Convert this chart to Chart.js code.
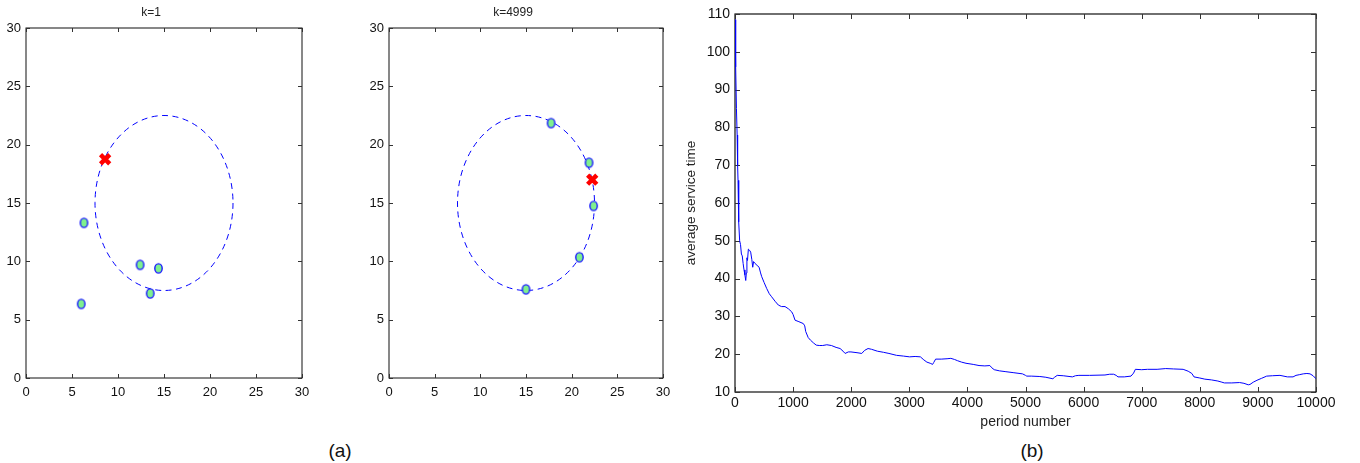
<!DOCTYPE html>
<html>
<head>
<meta charset="utf-8">
<script src="https://cdn.jsdelivr.net/npm/chart.js@4.4.1/dist/chart.umd.min.js"></script>
<style>
  html, body { margin: 0; padding: 0; background: #fff; }
  body { width: 1360px; height: 463px; position: relative; overflow: hidden; font-family: "Liberation Sans", Arial, Helvetica, sans-serif; }
  canvas { position: absolute; top: 0; }
  .cap { position: absolute; font-size: 19px; color: #111; transform: translate(-50%, -50%); white-space: nowrap; }
</style>
</head>
<body>
<canvas id="c1" width="320" height="410" style="left:0px"></canvas>
<canvas id="c2" width="318" height="410" style="left:363px"></canvas>
<canvas id="c3" width="680" height="440" style="left:680px"></canvas>
<div class="cap" style="left:340px; top:451px;">(a)</div>
<div class="cap" style="left:1032px; top:451px;">(b)</div>
<script>
// ---------- data ----------
const titleK1 = 'k=1';
const titleK2 = 'k=4999';
const gridTicks = [0, 5, 10, 15, 20, 25, 30];

const k1PointsX = [6.3, 6.0, 12.4, 14.4, 13.5];
const k1PointsY = [13.3, 6.35, 9.7, 9.4, 7.25];
const k1CrossX = [8.6];
const k1CrossY = [18.75];
const k1Circle = [15, 15, 7.5]; // centre x, centre y, radius

const k2PointsX = [17.75, 21.9, 22.4, 20.85, 15.0];
const k2PointsY = [21.85, 18.45, 14.75, 10.35, 7.6];
const k2CrossX = [22.25];
const k2CrossY = [17.0];
const k2Circle = [15, 15, 7.5];

const periodTicks = [0,1000,2000,3000,4000,5000,6000,7000,8000,9000,10000];
const timeTicks = [10,20,30,40,50,60,70,80,90,100,110];
const periods = [0,8,15,25,37,45,52,60,67,80,95,110,125,140,155,170,185,195,205,215,230,250,270,290,305,320,345,380,415,440,460,500,545,590,630,690,746,800,861,920,976,1000,1033,1100,1176,1200,1217,1260,1300,1350,1398,1450,1510,1580,1659,1740,1809,1860,1895,1950,1996,2100,2182,2230,2290,2350,2450,2556,2650,2780,2900,3005,3100,3191,3250,3303,3360,3401,3420,3453,3550,3650,3715,3780,3827,3900,3976,4100,4200,4300,4387,4420,4462,4550,4649,4800,4948,5000,5022,5100,5247,5350,5471,5500,5546,5650,5807,5860,5919,6100,6368,6450,6517,6560,6592,6700,6816,6860,6891,7000,7100,7265,7414,7550,7713,7800,7863,7900,8000,8087,8200,8311,8380,8423,8550,8685,8760,8834,8864,8920,8984,9060,9151,9250,9380,9507,9605,9656,9720,9781,9843,9897,9950,10000];
const avgServiceTime = [108.5,101,96,85,78,70,66,57,55,50,49,46.5,46,44,42.3,41,39.5,41.5,45.5,44.8,47.8,47.5,47,45,43,44.5,44,43.5,43,41.5,40.5,39,37.4,36,35.2,34,33,32.6,32.6,32,31.2,30.5,29,28.6,28.1,27.5,26,24.4,23.7,23,22.4,22.3,22.3,22.5,22.3,21.8,21.5,20.8,20.2,20.6,20.6,20.4,20.2,21,21.5,21.3,20.8,20.5,20.2,19.7,19.5,19.3,19.4,19.3,18.5,17.9,17.6,17.3,17.8,18.7,18.7,18.8,18.9,18.6,18.3,17.9,17.6,17.3,17.0,16.9,17.0,16.4,15.9,15.6,15.4,15.1,14.8,14.4,14.2,14.2,14.1,13.9,13.5,13.9,14.4,14.3,14.0,14.3,14.4,14.4,14.5,14.7,14.7,14.4,14.0,14.0,14.2,15.0,16.0,15.9,16.0,16.0,16.2,16.1,16.0,15.5,14.9,14.0,13.7,13.4,13.2,12.9,12.6,12.4,12.4,12.5,12.3,11.9,12.0,12.6,13.1,13.6,14.2,14.3,14.4,14.0,14.0,14.4,14.6,14.8,14.9,14.8,14.3,13.5];

// ---------- helpers ----------
const FONT = '"Liberation Sans", Arial, Helvetica, sans-serif';
const BLUE = '#0000ff';
const plain = v => String(v);

function makeMarker() {
  const c = document.createElement('canvas');
  c.width = 11; c.height = 13;
  const g = c.getContext('2d');
  g.beginPath();
  g.ellipse(5.5, 6.5, 3.7, 4.6, 0, 0, Math.PI * 2);
  g.fillStyle = '#7ff08e';
  g.fill();
  g.lineWidth = 1.4;
  g.strokeStyle = '#1a1aff';
  g.stroke();
  return c;
}
const marker = makeMarker();

const boxPlugin = {
  id: 'boxTicks',
  beforeDatasetsDraw(chart, args, opts) {
    const { ctx, chartArea: a } = chart;
    const len = opts.len || 4;
    ctx.save();
    ctx.strokeStyle = '#111';
    ctx.lineWidth = opts.width || 1;
    ctx.strokeRect(a.left, a.top, a.right - a.left, a.bottom - a.top);
    ctx.lineWidth = 1;
    ctx.strokeStyle = '#333';
    ctx.beginPath();
    chart.scales.x.ticks.forEach(t => {
      const p = Math.round(chart.scales.x.getPixelForValue(t.value)) + 0.5;
      ctx.moveTo(p, a.bottom); ctx.lineTo(p, a.bottom - len);
      ctx.moveTo(p, a.top); ctx.lineTo(p, a.top + len);
    });
    chart.scales.y.ticks.forEach(t => {
      const p = Math.round(chart.scales.y.getPixelForValue(t.value)) + 0.5;
      ctx.moveTo(a.left, p); ctx.lineTo(a.left + len, p);
      ctx.moveTo(a.right, p); ctx.lineTo(a.right - len, p);
    });
    ctx.stroke();
    ctx.restore();
  }
};

const circlePlugin = {
  id: 'dashedCircle',
  beforeDatasetsDraw(chart, args, opts) {
    if (!opts.circle) return;
    const [cx, cy, r] = opts.circle;
    const xs = chart.scales.x, ys = chart.scales.y;
    const px = xs.getPixelForValue(cx), py = ys.getPixelForValue(cy);
    const rx = Math.abs(xs.getPixelForValue(cx + r) - px);
    const ry = Math.abs(ys.getPixelForValue(cy + r) - py);
    const ctx = chart.ctx;
    ctx.save();
    ctx.beginPath();
    ctx.ellipse(px, py, rx, ry, 0, 0, Math.PI * 2);
    ctx.setLineDash([6, 4.5]);
    ctx.strokeStyle = BLUE;
    ctx.lineWidth = 1;
    ctx.stroke();
    ctx.restore();
  }
};

function scatterChart(id, title, xs, ys, cxs, cys, circle) {
  const pts = xs.map((x, i) => ({ x, y: ys[i] }));
  const crs = cxs.map((x, i) => ({ x, y: cys[i] }));
  return new Chart(document.getElementById(id), {
    type: 'scatter',
    data: {
      datasets: [
        { data: pts, pointStyle: marker, pointRadius: 5, order: 2 },
        { data: crs, pointStyle: 'crossRot', pointRadius: 6.5, borderWidth: 4.5,
          borderColor: '#ff0000', backgroundColor: '#ff0000', order: 1 }
      ]
    },
    options: {
      responsive: false,
      animation: false,
      layout: { padding: { left: 0, right: 18, top: 0, bottom: 2 } },
      plugins: {
        legend: { display: false },
        tooltip: { enabled: false },
        title: { display: true, text: title, color: '#222',
          font: { family: FONT, size: 12, weight: 'normal', lineHeight: 1.2 },
          padding: { top: 5.8, bottom: 7.8 } },
        dashedCircle: { circle },
        boxTicks: { len: 4, width: 1 }
      },
      scales: {
        x: { type: 'linear', min: 0, max: 30,
          afterBuildTicks: s => { s.ticks = gridTicks.map(v => ({ value: v })); },
          afterFit: s => { s.height = 30; },
          grid: { display: false, drawTicks: false }, border: { display: false },
          ticks: { color: '#111', padding: 7, maxRotation: 0, callback: plain, font: { family: FONT, size: 13 } } },
        y: { type: 'linear', min: 0, max: 30,
          afterBuildTicks: s => { s.ticks = gridTicks.map(v => ({ value: v })); },
          afterFit: s => { s.width = 26; },
          grid: { display: false, drawTicks: false }, border: { display: false },
          ticks: { color: '#111', padding: 5, callback: plain, font: { family: FONT, size: 13 } } }
      }
    },
    plugins: [boxPlugin, circlePlugin]
  });
}

scatterChart('c1', titleK1, k1PointsX, k1PointsY, k1CrossX, k1CrossY, k1Circle);
scatterChart('c2', titleK2, k2PointsX, k2PointsY, k2CrossX, k2CrossY, k2Circle);

new Chart(document.getElementById('c3'), {
  type: 'line',
  data: {
    datasets: [{
      data: periods.map((p, i) => ({ x: p, y: avgServiceTime[i] })),
      borderColor: BLUE, borderWidth: 1, pointRadius: 0, tension: 0, fill: false
    }]
  },
  options: {
    responsive: false,
    animation: false,
    layout: { padding: { left: 0, right: 44, top: 14, bottom: 4 } },
    plugins: {
      legend: { display: false },
      tooltip: { enabled: false },
      boxTicks: { len: 5, width: 1.2 }
    },
    scales: {
      x: { type: 'linear', min: 0, max: 10000,
        afterBuildTicks: s => { s.ticks = periodTicks.map(v => ({ value: v })); },
        afterFit: s => { s.height = 44; },
        grid: { display: false, drawTicks: false }, border: { display: false },
        ticks: { color: '#111', padding: 3, maxRotation: 0, callback: plain, font: { family: FONT, size: 14 } },
        title: { display: true, text: 'period number', color: '#222',
          font: { family: FONT, size: 14, lineHeight: 1.2 }, padding: { top: 0, bottom: 5.6 } } },
      y: { type: 'linear', min: 10, max: 110,
        afterBuildTicks: s => { s.ticks = timeTicks.map(v => ({ value: v })); },
        afterFit: s => { s.width = 55; },
        grid: { display: false, drawTicks: false }, border: { display: false },
        ticks: { color: '#111', padding: 5, callback: plain, font: { family: FONT, size: 14 } },
        title: { display: true, text: 'average service time', color: '#222',
          font: { family: FONT, size: 13.5, lineHeight: 1.2 }, padding: { top: 3, bottom: 0 } } }
    }
  },
  plugins: [boxPlugin]
});
</script>
</body>
</html>
